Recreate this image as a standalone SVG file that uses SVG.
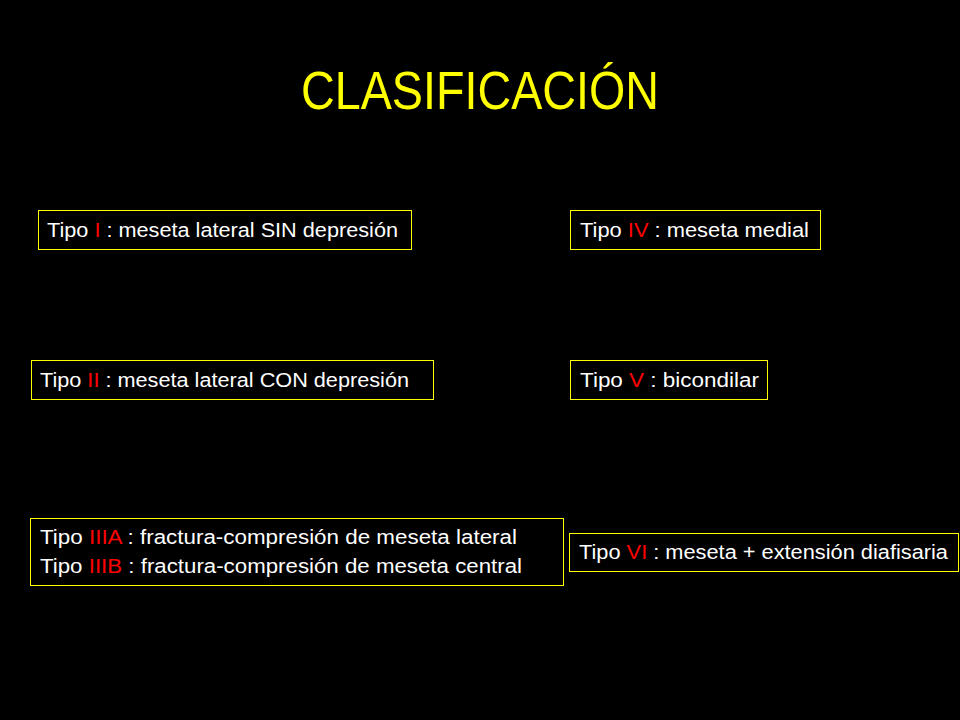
<svg xmlns="http://www.w3.org/2000/svg" width="960" height="720" viewBox="0 0 960 720">
<style>
.b{fill:none;stroke:#FFFF00;stroke-width:1}
.t{font-family:"Liberation Sans",Arial,sans-serif;font-size:20px;fill:#fff}
.r{fill:#FF0000}
</style>
<rect width="960" height="720" fill="#000"/>
<text x="480" y="109" text-anchor="middle" font-family="Liberation Sans,Arial,sans-serif" font-size="54" fill="#FFFF00" textLength="358" lengthAdjust="spacingAndGlyphs">CLASIFICACIÓN</text>
<g id="n1"><rect class="b" x="38.5" y="210.5" width="373" height="39"/><text class="t" x="47" y="237" textLength="351" lengthAdjust="spacingAndGlyphs">Tipo <tspan class="r">I</tspan> : meseta lateral SIN depresión</text></g>
<g id="n2"><rect class="b" x="570.5" y="210.5" width="250" height="39"/><text class="t" x="580" y="237" textLength="229" lengthAdjust="spacingAndGlyphs">Tipo <tspan class="r">IV</tspan> : meseta medial</text></g>
<g id="n3"><rect class="b" x="31.5" y="360.5" width="402" height="39"/><text class="t" x="40" y="387" textLength="369" lengthAdjust="spacingAndGlyphs">Tipo <tspan class="r">II</tspan> : meseta lateral CON depresión</text></g>
<g id="n4"><rect class="b" x="570.5" y="360.5" width="197" height="39"/><text class="t" x="580" y="387" textLength="179" lengthAdjust="spacingAndGlyphs">Tipo <tspan class="r">V</tspan> : bicondilar</text></g>
<g id="n5"><rect class="b" x="30.5" y="518.5" width="533" height="67"/>
<text class="t" x="40" y="544" textLength="477" lengthAdjust="spacingAndGlyphs">Tipo <tspan class="r">IIIA</tspan>  : fractura-compresión de meseta lateral</text>
<text class="t" x="40" y="573" textLength="482" lengthAdjust="spacingAndGlyphs">Tipo <tspan class="r">IIIB</tspan>  : fractura-compresión de meseta central</text></g>
<g id="n6"><rect class="b" x="569.5" y="533.5" width="389" height="38"/><text class="t" x="579" y="559" textLength="369" lengthAdjust="spacingAndGlyphs">Tipo <tspan class="r">VI</tspan> : meseta + extensión diafisaria</text></g>
<g id="connectors"/>
</svg>
